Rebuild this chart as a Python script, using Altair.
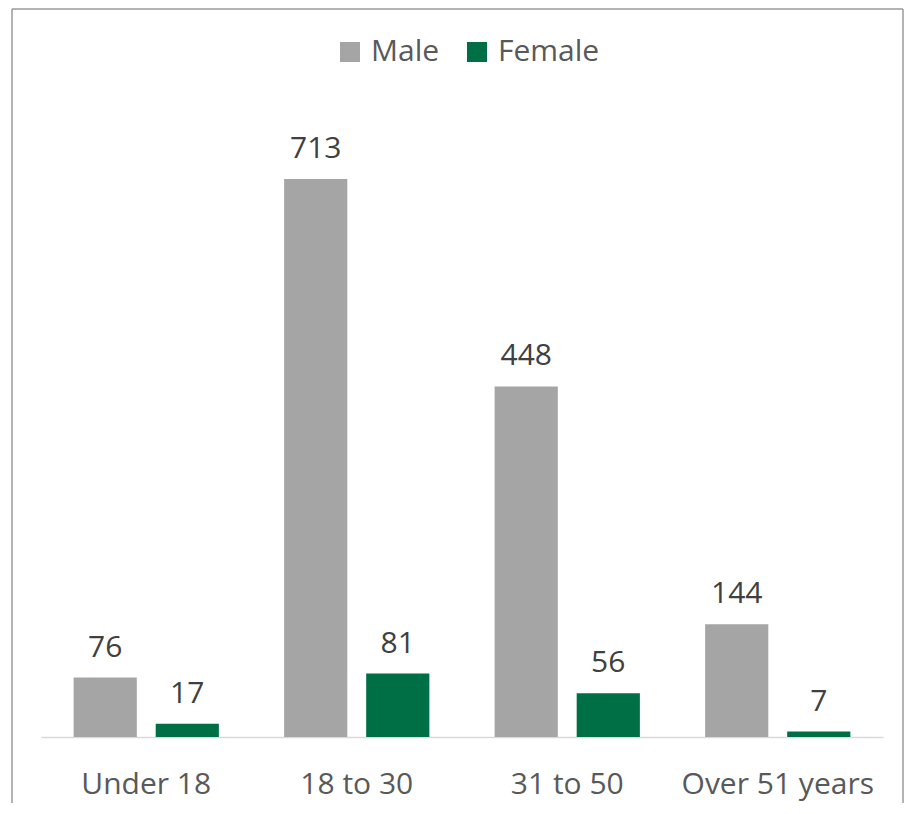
import altair as alt
import pandas as pd

categories = ["Under 18", "18 to 30", "31 to 50", "Over 51 years"]
series = ["Male", "Female"]
male = [76, 713, 448, 144]
female = [17, 81, 56, 7]
colors = ["#A5A5A5", "#006F45"]

rows = []
for i, c in enumerate(categories):
    rows.append({"age": c, "gender": "Male", "value": male[i]})
    rows.append({"age": c, "gender": "Female", "value": female[i]})
df = pd.DataFrame(rows)

FONT = "Open Sans"
FS = 30

x = alt.X("age:N", sort=categories, title=None,
          scale=alt.Scale(paddingInner=0.31, paddingOuter=0.155),
          axis=alt.Axis(labelAngle=0, labelFontSize=FS, labelColor="#595959",
                        labelFont=FONT, ticks=False, domainColor="#D9D9D9",
                        domainWidth=1.5, labelPadding=32, grid=False,
                        labelLimit=400))
xo = alt.XOffset("gender:N", sort=series,
                 scale=alt.Scale(paddingInner=0.23, paddingOuter=0))
y = alt.Y("value:Q", scale=alt.Scale(domain=[0, 800]), axis=None)

base = alt.Chart(df)

bars = base.mark_bar().encode(
    x=x, xOffset=xo, y=y,
    color=alt.Color("gender:N", sort=series,
                    scale=alt.Scale(domain=series, range=colors),
                    legend=alt.Legend(title=None, orient="none", direction="horizontal",
                                      legendX=294, legendY=-74,
                                      symbolType="square", symbolSize=400,
                                      symbolStrokeWidth=0, labelFontSize=FS,
                                      labelFont=FONT, labelColor="#595959",
                                      labelOffset=6, columnPadding=22)),
)

labels = base.mark_text(baseline="bottom", dy=-15, fontSize=FS, font=FONT,
                        color="#404040").encode(
    x=x, xOffset=xo, y=y, text=alt.Text("value:Q")
)

border_df = pd.DataFrame({"k": [0]})
bcol = "#9A9A9A"
left = alt.Chart(border_df).mark_rule(color=bcol, strokeWidth=1.5).encode(
    x=alt.value(-29), y=alt.value(-102), y2=alt.value(692))
top = alt.Chart(border_df).mark_rule(color=bcol, strokeWidth=1.5).encode(
    x=alt.value(-29), x2=alt.value(862), y=alt.value(-102))
right = alt.Chart(border_df).mark_rule(color=bcol, strokeWidth=1.5).encode(
    x=alt.value(862), y=alt.value(-102), y2=alt.value(692))

chart = alt.layer(bars, labels, left, top, right).properties(
    width=842, height=626,
    padding={"left": 3, "top": 0, "right": 0, "bottom": 0},
    background="white",
).configure_view(stroke=None)

chart.save("out.html", embed_options={"renderer": "svg", "actions": False})
